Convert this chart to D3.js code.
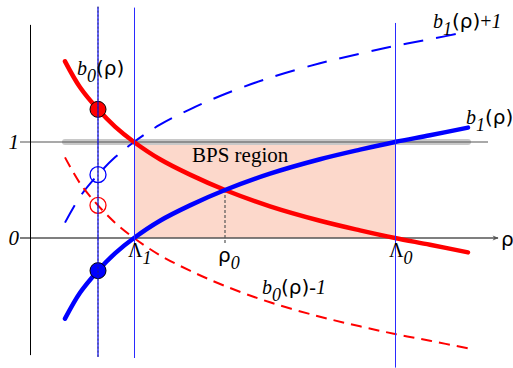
<!DOCTYPE html>
<html>
<head>
<meta charset="utf-8">
<script src="https://cdn.jsdelivr.net/npm/d3@7"></script>
<style>
    body { margin: 0; background: #fff; }
    .serif { font-family: "Liberation Serif", "Times New Roman", serif; }
    .sans { font-family: "DejaVu Sans", sans-serif; }
</style>
</head>
<body>
<div id="chart"></div>
<script>
// curve samples
var rho      = [0.35, 0.5, 0.68, 0.85, 1.04, 1.3, 1.6, 1.95, 2.4, 2.9, 3.3, 3.65, 4.0, 4.38];
var b0       = [1.84, 1.57, 1.34, 1.16, 1.0, 0.82, 0.66, 0.5, 0.33, 0.18, 0.08, 0, -0.07, -0.15];
var b1       = [-0.84, -0.57, -0.34, -0.16, 0, 0.18, 0.34, 0.5, 0.67, 0.82, 0.92, 1.0, 1.07, 1.15];
var b1plus1  = [0.16, 0.43, 0.66, 0.84, 1.0, 1.18, 1.34, 1.5, 1.67, 1.82, 1.92, 2.0, 2.07, 2.15];
var b0minus1 = [0.84, 0.57, 0.34, 0.16, 0, -0.18, -0.34, -0.5, -0.67, -0.82, -0.92, -1.0, -1.07, -1.15];

// special points on the rho axis
var lambda1 = 1.04,
    rho0 = 1.95,
    lambda0 = 3.65,
    rhoMark = 0.68;

// the four markers on the rhoMark line
var markers = [
    { v: 1.34, color: "red", filled: true },
    { v: -0.34, color: "blue", filled: true },
    { v: 0.34, color: "red", filled: false },
    { v: 0.66, color: "blue", filled: false }
];

var yTicks = [0, 1];

draw_chart()

function draw_chart() {
    var width = 513,
        height = 368;

    var x = d3.scaleLinear().domain([0, 4.7]).range([30, 500]);
    var y = d3.scaleLinear().domain([0, 1]).range([238, 142]);

    var svg = d3.select("#chart").append("svg")
        .attr("width", width)
        .attr("height", height);

    var defs = svg.append("defs");
    defs.append("marker")
        .attr("id", "arrow")
        .attr("viewBox", "0 0 10 10")
        .attr("refX", 9).attr("refY", 5)
        .attr("markerWidth", 9).attr("markerHeight", 6)
        .attr("markerUnits", "userSpaceOnUse")
        .attr("orient", "auto")
        .append("path")
        .attr("d", "M0,1 L10,5 L0,9 L3,5 Z")
        .attr("fill", "#555");

    // BPS region shading
    svg.append("rect")
        .attr("x", x(lambda1))
        .attr("y", y(1))
        .attr("width", x(lambda0) - x(lambda1))
        .attr("height", y(0) - y(1))
        .attr("fill", "#fcd8cb");

    // grey band on the b=1 line
    svg.append("line")
        .attr("x1", x(0.35)).attr("x2", x(4.38))
        .attr("y1", y(1)).attr("y2", y(1))
        .attr("stroke", "#c8c8c8")
        .attr("stroke-width", 6)
        .attr("stroke-linecap", "round");

    svg.append("line")
        .attr("x1", x(-0.1)).attr("x2", x(4.58))
        .attr("y1", y(1)).attr("y2", y(1))
        .attr("stroke", "#555")
        .attr("stroke-width", 1.2);

    // rho axis
    svg.append("line")
        .attr("x1", x(-0.1)).attr("x2", x(4.68))
        .attr("y1", y(0)).attr("y2", y(0))
        .attr("stroke", "#555")
        .attr("stroke-width", 1.5)
        .attr("marker-end", "url(#arrow)");

    // left vertical axis
    svg.append("line")
        .attr("x1", x(0) + 0.5).attr("x2", x(0) + 0.5)
        .attr("y1", y(2.22)).attr("y2", y(-1.22))
        .attr("stroke", "#000")
        .attr("stroke-width", 1);

    // rho0 dotted drop line
    svg.append("line")
        .attr("x1", x(rho0)).attr("x2", x(rho0))
        .attr("y1", y(0.5)).attr("y2", y(-0.07))
        .attr("stroke", "#555")
        .attr("stroke-width", 1.2)
        .attr("stroke-dasharray", "3,2");

    var pts = function (vals) {
        return rho.map(function (r, i) { return [r, vals[i]]; });
    };
    var line = d3.line()
        .x(function (d) { return x(d[0]); })
        .y(function (d) { return y(d[1]); })
        .curve(d3.curveCatmullRom);

    // dashed shifted curves
    svg.append("path")
        .attr("d", line(pts(b1plus1)))
        .attr("fill", "none")
        .attr("stroke", "blue")
        .attr("stroke-width", 2)
        .attr("stroke-dasharray", "20,13");

    svg.append("path")
        .attr("d", line(pts(b0minus1)))
        .attr("fill", "none")
        .attr("stroke", "red")
        .attr("stroke-width", 2)
        .attr("stroke-dasharray", "11,7");

    // main curves
    svg.append("path")
        .attr("d", line(pts(b0)))
        .attr("fill", "none")
        .attr("stroke", "red")
        .attr("stroke-width", 4.5)
        .attr("stroke-linecap", "round");

    svg.append("path")
        .attr("d", line(pts(b1)))
        .attr("fill", "none")
        .attr("stroke", "blue")
        .attr("stroke-width", 4.5)
        .attr("stroke-linecap", "round");

    // markers
    svg.selectAll(".mk")
        .data(markers)
        .enter().append("circle")
        .attr("class", "mk")
        .attr("cx", x(rhoMark))
        .attr("cy", function (d) { return y(d.v); })
        .attr("r", 8)
        .attr("fill", function (d) { return d.filled ? d.color : "none"; })
        .attr("stroke", function (d) { return d.filled ? "#000" : d.color; })
        .attr("stroke-width", function (d) { return d.filled ? 1 : 1.3; });

    // vertical guide lines
    svg.append("line")
        .attr("x1", x(rhoMark)).attr("x2", x(rhoMark))
        .attr("y1", y(2.41)).attr("y2", y(-1.24))
        .attr("stroke", "blue")
        .attr("stroke-width", 1.2);
    svg.append("line")
        .attr("x1", x(rhoMark)).attr("x2", x(rhoMark))
        .attr("y1", y(2.41)).attr("y2", y(-1.24))
        .attr("stroke", "#333")
        .attr("stroke-width", 0.7)
        .attr("stroke-dasharray", "2,2");

    svg.append("line")
        .attr("x1", x(lambda1) + 0.5).attr("x2", x(lambda1) + 0.5)
        .attr("y1", y(2.40)).attr("y2", y(-1.25))
        .attr("stroke", "#2a2aff")
        .attr("stroke-width", 1);

    svg.append("line")
        .attr("x1", x(lambda0) + 0.5).attr("x2", x(lambda0) + 0.5)
        .attr("y1", y(2.24)).attr("y2", y(-1.35))
        .attr("stroke", "#2a2aff")
        .attr("stroke-width", 1);

    // tick labels on the b axis
    svg.selectAll(".ytick")
        .data(yTicks)
        .enter().append("text")
        .attr("class", "serif")
        .attr("x", 19)
        .attr("y", function (d) { return y(d) + 7; })
        .attr("text-anchor", "end")
        .attr("font-size", 21)
        .attr("font-style", "italic")
        .text(function (d) { return d; });

    // rho axis name
    svg.append("text")
        .attr("class", "sans")
        .attr("x", 501).attr("y", y(0) + 8)
        .attr("font-size", 20)
        .text("ρ");

    svg.append("text")
        .attr("class", "serif")
        .attr("x", 192).attr("y", 162)
        .attr("font-size", 21)
        .text("BPS region");

    // labels built from pieces: [text, italic?, sub?, sans?]
    function label(xp, yp, parts) {
        var t = svg.append("text")
            .attr("x", xp).attr("y", yp)
            .attr("font-size", 20);
        var shifted = false;
        parts.forEach(function (p) {
            var s = t.append("tspan")
                .attr("class", p[3] ? "sans" : "serif")
                .attr("font-style", p[1] ? "italic" : "normal")
                .text(p[0]);
            if (p[2] && !shifted) { s.attr("dy", 7).attr("font-size", 18); shifted = true; }
            else if (!p[2] && shifted) { s.attr("dy", -7); shifted = false; }
        });
    }

    label(77, 75, [["b", true], ["0", true, true], ["(ρ)", false, false, true]]);
    label(433, 28, [["b", true], ["1", true, true], ["(ρ)", false, false, true], ["+", false], ["1", true]]);
    label(466, 124, [["b", true], ["1", true, true], ["(ρ)", false, false, true]]);
    label(262, 294, [["b", true], ["0", true, true], ["(ρ)", false, false, true], ["-", false], ["1", true]]);
    label(x(lambda1) - 6, 257, [["Λ", false], ["1", true, true]]);
    label(x(lambda0) - 6, 257, [["Λ", false], ["0", true, true]]);
    label(x(rho0) - 7, 262, [["ρ", false, false, true], ["0", true, true]]);
}
</script>
</body>
</html>
